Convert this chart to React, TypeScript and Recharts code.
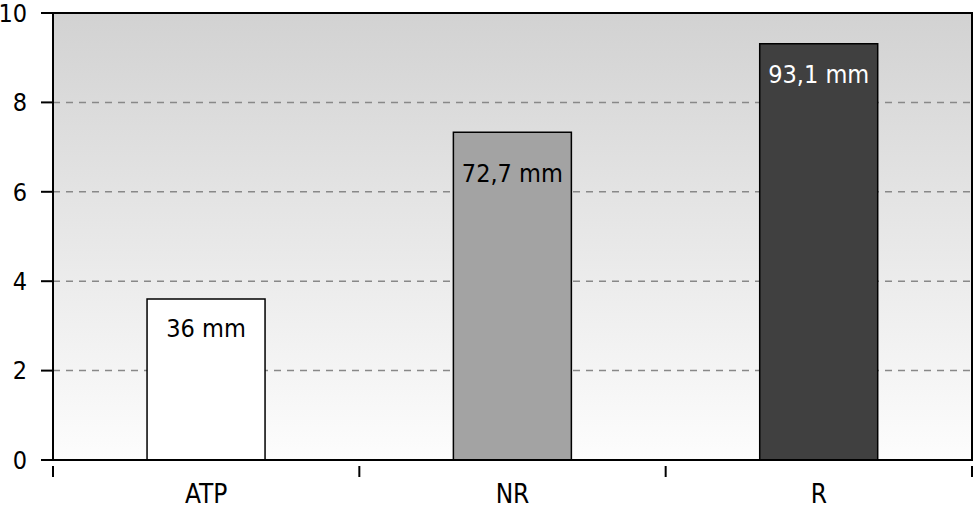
import {
  BarChart,
  Bar,
  Cell,
  CartesianGrid,
  LabelList,
  ReferenceArea,
  XAxis,
  YAxis,
} from "recharts"

const categories = ["ATP", "NR", "R"]
const values = [3.6, 7.33, 9.31]
const valueLabels = ["36 mm", "72,7 mm", "93,1 mm"]
const yTicks = [0, 2, 4, 6, 8, 10]

const barFills = ["#ffffff", "#a3a3a3", "#404040"]
const labelFills = ["#000000", "#000000", "#ffffff"]
// labels sit a bit lower in the middle bar in the original
const labelDy = [29, 41, 31]

const data = categories.map((name, i) => ({
  name,
  value: values[i],
  label: valueLabels[i],
}))

const FONT = "'DejaVu Sans Condensed', 'DejaVu Sans', sans-serif"

function InsideLabel(props: any) {
  const { x, y, width, value, index } = props
  return (
    <text
      x={x + width / 2}
      y={y + labelDy[index]}
      textAnchor="middle"
      dominantBaseline="central"
      fontFamily={FONT}
      fontSize={25}
      fill={labelFills[index]}
    >
      {value}
    </text>
  )
}

// category label + tick marks on the band edges (not the centre)
function CategoryTick(props: any) {
  const { x, y, payload, index, visibleTicksCount, width } = props
  const half =
    payload && payload.offset ? payload.offset : width / visibleTicksCount / 2
  const top = y - 19
  return (
    <g>
      <line x1={x - half} x2={x - half} y1={top} y2={top + 11} stroke="#000" strokeWidth={2} />
      {index === visibleTicksCount - 1 && (
        <line x1={x + half} x2={x + half} y1={top} y2={top + 11} stroke="#000" strokeWidth={2} />
      )}
      <text
        x={x}
        y={y}
        dy={18}
        textAnchor="middle"
        fontFamily={FONT}
        fontSize={26}
        fill="#000"
      >
        {payload.value}
      </text>
    </g>
  )
}

function App() {
  return (
    <div style={{ position: "absolute", left: 0, top: 0 }}>
      <BarChart
        width={975}
        height={507}
        data={data}
        margin={{ top: 13, right: 3, bottom: 0, left: 0 }}
        barCategoryGap="30.7%"
      >
        <defs>
          <linearGradient id="bg" x1="0" y1="0" x2="0" y2="1">
            <stop offset="0%" stopColor="#d2d2d2" />
            <stop offset="100%" stopColor="#fdfdfd" />
          </linearGradient>
        </defs>

        <CartesianGrid
          vertical={false}
          stroke="#888888"
          strokeDasharray="7 6"
          strokeWidth={1.5}
          fill="url(#bg)"
          fillOpacity={1}
        />

        <XAxis
          dataKey="name"
          height={47}
          axisLine={{ stroke: "#000", strokeWidth: 2 }}
          tickLine={false}
          tickMargin={19}
          interval={0}
          tick={<CategoryTick />}
        />

        <YAxis
          domain={[0, 10]}
          ticks={yTicks}
          width={53}
          tickSize={12}
          tickMargin={14}
          interval={0}
          axisLine={{ stroke: "#000", strokeWidth: 2 }}
          tickLine={{ stroke: "#000", strokeWidth: 2 }}
          tick={{ fill: "#000", fontSize: 25, fontFamily: FONT }}
        />

        <ReferenceArea
          y1={0}
          y2={10}
          fill="none"
          fillOpacity={0}
          stroke="#000"
          strokeWidth={2}
        />

        <Bar
          dataKey="value"
          stroke="#000"
          strokeWidth={1.5}
          isAnimationActive={false}
        >
          {data.map((d, i) => (
            <Cell key={d.name} fill={barFills[i]} />
          ))}
          <LabelList dataKey="label" content={<InsideLabel />} />
        </Bar>
      </BarChart>
    </div>
  )
}

export default App
